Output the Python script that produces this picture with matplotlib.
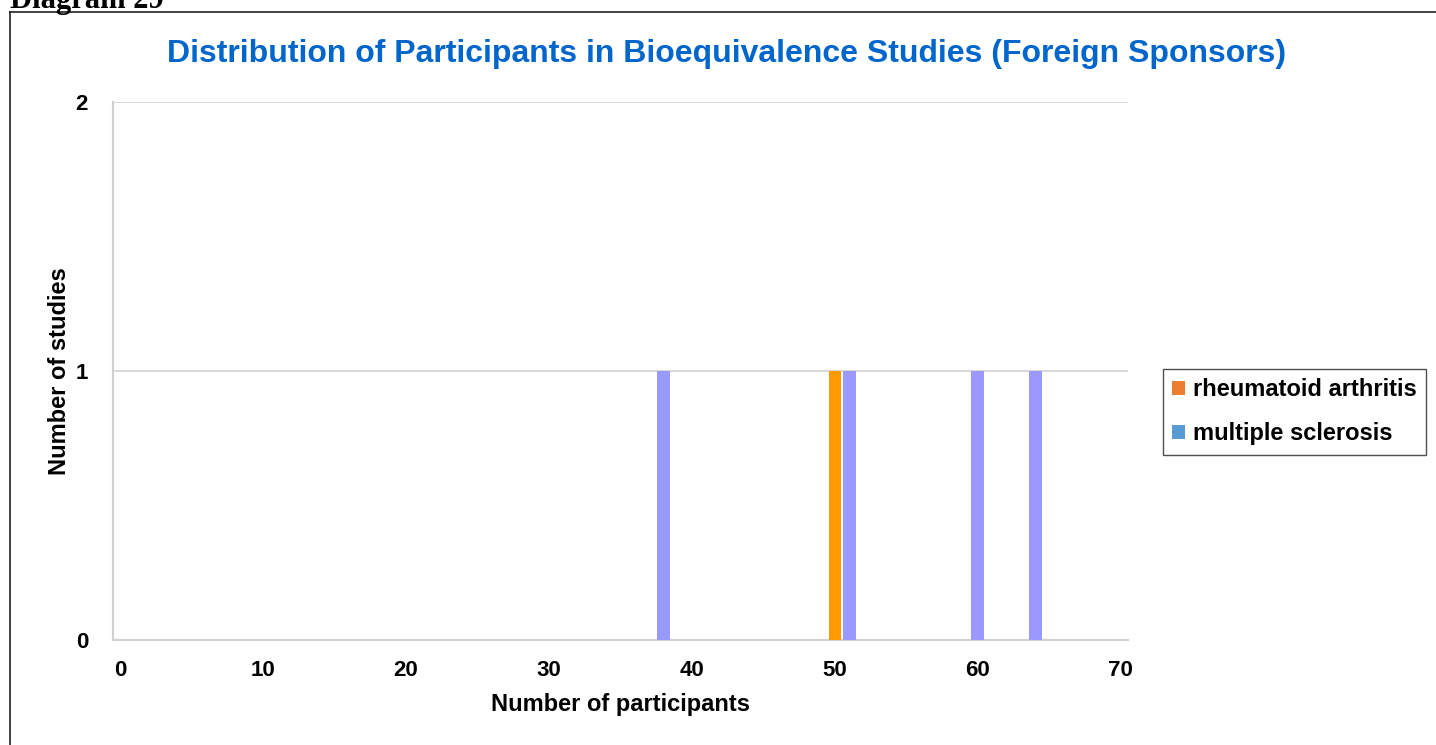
import matplotlib
matplotlib.use("Agg")
import matplotlib.pyplot as plt
from matplotlib.patches import Patch
from matplotlib.lines import Line2D

plt.rcParams['font.family'] = ['Liberation Sans', 'DejaVu Sans']

# participants per study (x) and number of studies (y)
ra_participants = [50]
ra_studies = [1]
ms_participants = [38, 51, 60, 64]
ms_studies = [1, 1, 1, 1]

x_ticks = [0, 10, 20, 30, 40, 50, 60, 70]
y_ticks = [0, 1, 2]
series_names = ["rheumatoid arthritis", "multiple sclerosis"]

W, H = 1436, 745
fig = plt.figure(figsize=(W / 100, H / 100), dpi=100)
ax = fig.add_axes([113 / W, 1 - 640 / H, (1128 - 113) / W, (640 - 102) / H])

ax.bar(ra_participants, ra_studies, width=0.9, color="#FF9900", zorder=3)
ax.bar(ms_participants, ms_studies, width=0.9, color="#9999FF", zorder=3)

ax.set_xlim(-0.5, 70.5)
ax.set_ylim(0, 2)
ax.set_xticks(x_ticks)
ax.set_yticks(y_ticks)
ax.tick_params(length=0, labelsize=16)
ax.tick_params(axis="x", pad=14.5)
ax.tick_params(axis="y", pad=18)
for lbl in ax.get_xticklabels() + ax.get_yticklabels():
    lbl.set_fontweight("bold")

ax.yaxis.grid(True, color="#D9D9D9", linewidth=1.5, zorder=0)
for side in ["top", "right"]:
    ax.spines[side].set_visible(False)
for side in ["left", "bottom"]:
    ax.spines[side].set_color("#D0D0D0")
    ax.spines[side].set_linewidth(1.5)

ax.set_xlabel("Number of participants", fontsize=17, fontweight="bold")
ax.set_ylabel("Number of studies", fontsize=17, fontweight="bold")
ax.xaxis.set_label_coords(0.5, -65 / 538)
ax.xaxis.label.set_verticalalignment("center")
ax.yaxis.set_label_coords(-54 / 1015, 0.5)
ax.yaxis.label.set_verticalalignment("center")

fig.text(727 / W, 1 - 62 / H, "Distribution of Participants in Bioequivalence Studies (Foreign Sponsors)",
         ha="center", va="baseline", fontsize=23, fontweight="bold", color="#0066CC")

# frame around the chart and the caption above it
fig.add_artist(Line2D([10 / W, 10 / W], [0, 1 - 12 / H], color="#222222", linewidth=1.2))
fig.add_artist(Line2D([10 / W, 1], [1 - 12 / H, 1 - 12 / H], color="#222222", linewidth=1.2))
fig.text(10 / W, 1 - 8 / H, "Diagram 29", ha="left", va="baseline", fontsize=22,
         fontweight="bold", family="Liberation Serif")

handles = [Patch(facecolor="#ED7D31"), Patch(facecolor="#5B9BD5")]
leg = fig.legend(handles, series_names, loc="upper left",
                 bbox_to_anchor=(1163 / W, 1 - 369 / H),
                 prop={"weight": "bold", "size": 17}, frameon=True, fancybox=False,
                 handlelength=0.55, handleheight=0.55, handletextpad=0.3,
                 borderpad=0.4, labelspacing=0.88, borderaxespad=0)
leg.get_frame().set_edgecolor("#222222")
leg.get_frame().set_linewidth(1.0)

fig.savefig("out.png", dpi=100)
